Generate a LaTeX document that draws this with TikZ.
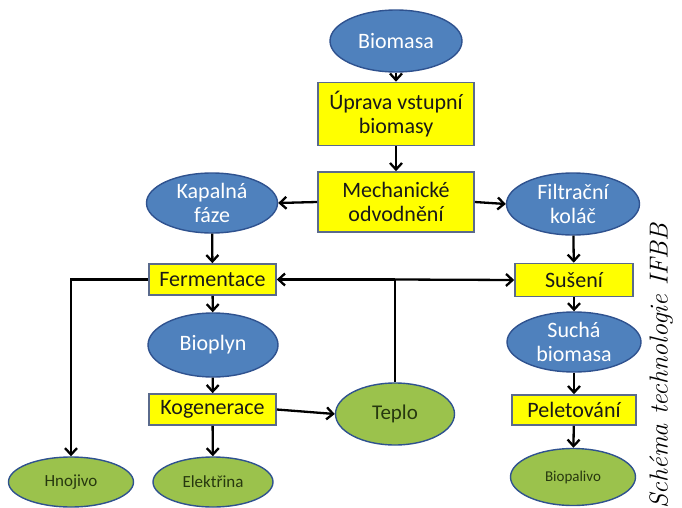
\documentclass[tikz,border=0pt]{standalone}
\usepackage{fontspec}
\newfontfamily\calibri{Carlito}
\usepackage{tikz}
\usetikzlibrary{arrows.meta, positioning, shapes.geometric}

\definecolor{modra}{HTML}{4F81BD}
\definecolor{modrylem}{HTML}{2F528F}
\definecolor{zluta}{HTML}{FFFF00}
\definecolor{zlutylem}{HTML}{5A6A8C}
\definecolor{zelena}{HTML}{9BC24C}
\definecolor{zelenytext}{HTML}{27380F}

\begin{document}
\begin{tikzpicture}[
        x=1pt, y=-1pt,
        surovina/.style={ellipse, draw=modrylem, line width=1.4pt, fill=modra, text=white, inner sep=0pt, align=center, font=\calibri\fontsize{22}{24}\selectfont},
        proces/.style={rectangle, draw=zlutylem, line width=1.6pt, fill=zluta, text=black!90, inner sep=0pt, align=center, font=\calibri\fontsize{22}{24}\selectfont},
        produkt/.style={ellipse, draw=modrylem, line width=1.4pt, fill=zelena, text=zelenytext, inner sep=0pt, font=\calibri\fontsize{17}{20}\selectfont},
        tok/.style={-{Straight Barb[length=6.5pt, width=12pt]}, line width=2.3pt},
        spoj/.style={line width=2.3pt},
    ]
        \useasboundingbox (0,0) rectangle (682,508);

        \node[surovina] (biomasa) at (396,41) [minimum width=132, minimum height=62] {Biomasa};
        \node[proces] (uprava) at (396,114) [minimum width=156, minimum height=63] {Úprava vstupní\\biomasy};
        \node[proces] (odvodneni) at (396,202) [minimum width=156, minimum height=60] {Mechanické\\odvodnění};
        \node[surovina] (kapalna) at (212,203) [minimum width=131, minimum height=60] {Kapalná\\fáze};
        \node[surovina] (kolac) at (573,204) [minimum width=133, minimum height=62] {Filtrační\\koláč};

        \node[proces] (fermentace) at (212.5,279.5) [minimum width=127, minimum height=31] {Fermentace};
        \node[proces] (suseni) at (574,280) [minimum width=118, minimum height=33] {Sušení};
        \node[surovina] (bioplyn) at (213,345) [minimum width=130, minimum height=64] {Bioplyn};
        \node[surovina] (sucha) at (574,342) [minimum width=134, minimum height=60] {Suchá\\biomasa};
        \node[proces] (kogenerace) at (212.5,409.5) [minimum width=127, minimum height=31] {Kogenerace};
        \node[proces] (peletovani) at (574,410) [minimum width=124, minimum height=30] {Peletování};
        \node[produkt] (teplo) at (395,414) [minimum width=119, minimum height=62, font=\calibri\fontsize{21}{24}\selectfont] {Teplo};

        \node[produkt] (hnojivo) at (71,482) [minimum width=125, minimum height=50] {Hnojivo};
        \node[produkt] (elektrina) at (213,482) [minimum width=120, minimum height=50] {Elektřina};
        \node[produkt] (biopalivo) at (573,477) [minimum width=125, minimum height=57, font=\calibri\fontsize{15}{18}\selectfont] {Biopalivo};

        \node[rotate=90, font=\itshape\fontsize{26}{30}\selectfont] (popisek) at (661,366) {Schéma technologie IFBB};

        \draw[tok] (biomasa) -- (uprava);
        \draw[tok] (uprava) -- (odvodneni);
        \draw[tok] (odvodneni.west) -- (kapalna.east);
        \draw[tok] (odvodneni.east) -- (kolac.west);
        \draw[tok] (kapalna) -- (fermentace);
        \draw[tok] (kolac) -- (suseni);

        \draw[tok] (fermentace) -- (bioplyn);
        \draw[tok] (bioplyn) -- (kogenerace);
        \draw[tok] (kogenerace) -- (elektrina);
        \draw[tok] (kogenerace.east) -- (teplo.west);
        \draw[tok] (fermentace.west) -| (hnojivo.north);

        \coordinate (rozvod) at (teplo.north |- fermentace.east);
        \draw[spoj] (teplo.north) -- (rozvod);
        \draw[tok] (rozvod) -- (fermentace.east);
        \draw[tok] (rozvod) -- (suseni.west);

        \draw[tok] (suseni) -- (sucha);
        \draw[tok] (sucha) -- (peletovani);
        \draw[tok] (peletovani) -- (biopalivo);
    \end{tikzpicture}
\end{document}
